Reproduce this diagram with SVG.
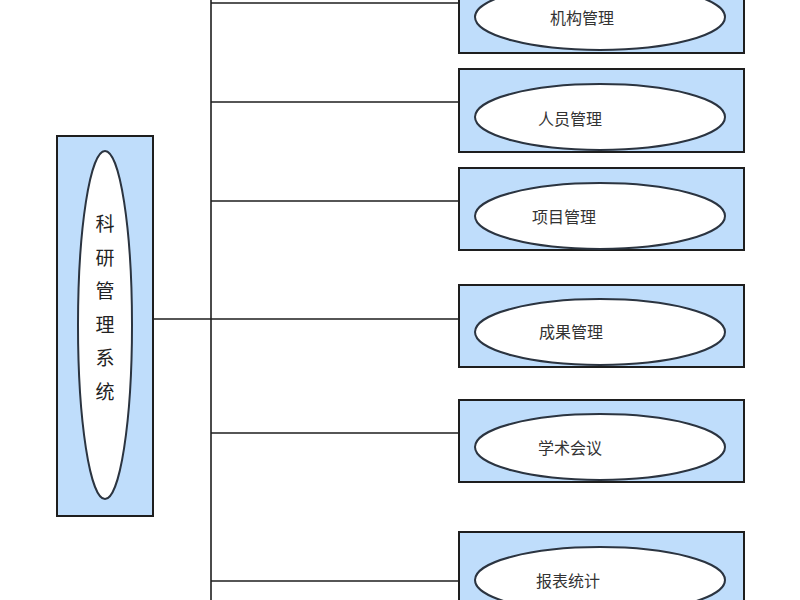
<svg xmlns="http://www.w3.org/2000/svg" width="800" height="600" viewBox="0 0 800 600">
<style>
.box{fill:#bfddfb;stroke:#1e1e1e;stroke-width:2}
.ell{fill:#ffffff;stroke:#2b3440;stroke-width:2}
.lbl{font-family:"Noto Sans CJK SC","Liberation Sans",sans-serif;font-size:16px;fill:#333333;text-anchor:middle;dominant-baseline:central}
.vl{font-family:"Noto Sans CJK SC","Liberation Sans",sans-serif;font-size:19px;fill:#222222;text-anchor:middle;dominant-baseline:central}
.con{stroke:#1e1e1e;stroke-width:1.6;fill:none}
</style>
<rect width="800" height="600" fill="#ffffff"/>
<g id="connectors">
<line class="con" x1="211" y1="0" x2="211" y2="600"/>
<line class="con" x1="153" y1="319" x2="459" y2="319"/>
<line class="con" x1="211" y1="3" x2="459" y2="3"/>
<line class="con" x1="211" y1="102" x2="459" y2="102"/>
<line class="con" x1="211" y1="201" x2="459" y2="201"/>
<line class="con" x1="211" y1="433" x2="459" y2="433"/>
<line class="con" x1="211" y1="581" x2="459" y2="581"/>
</g>
<g id="root">
<rect class="box" x="57" y="136" width="96" height="380"/>
<ellipse class="ell" cx="105" cy="325" rx="27" ry="174"/>
<text class="vl" x="105" y="222">科</text>
<text class="vl" x="105" y="256">研</text>
<text class="vl" x="105" y="289">管</text>
<text class="vl" x="105" y="323">理</text>
<text class="vl" x="105" y="356">系</text>
<text class="vl" x="105" y="390">统</text>
</g>
<g id="n1">
<rect class="box" x="459" y="-30" width="285" height="83"/>
<ellipse class="ell" cx="600" cy="17" rx="125" ry="33"/>
<text class="lbl" x="582" y="17">机构管理</text>
</g>
<g id="n2">
<rect class="box" x="459" y="69" width="285" height="83"/>
<ellipse class="ell" cx="600" cy="117" rx="125" ry="33"/>
<text class="lbl" x="570" y="118">人员管理</text>
</g>
<g id="n3">
<rect class="box" x="459" y="168" width="285" height="82"/>
<ellipse class="ell" cx="600" cy="216" rx="125" ry="33"/>
<text class="lbl" x="564" y="216">项目管理</text>
</g>
<g id="n4">
<rect class="box" x="459" y="285" width="285" height="82"/>
<ellipse class="ell" cx="600" cy="332" rx="125" ry="33"/>
<text class="lbl" x="571" y="331">成果管理</text>
</g>
<g id="n5">
<rect class="box" x="459" y="400" width="285" height="82"/>
<ellipse class="ell" cx="600" cy="447" rx="125" ry="33"/>
<text class="lbl" x="570" y="447">学术会议</text>
</g>
<g id="n6">
<rect class="box" x="459" y="532" width="285" height="82"/>
<ellipse class="ell" cx="600" cy="580" rx="125" ry="33"/>
<text class="lbl" x="568" y="580">报表统计</text>
</g>
</svg>
